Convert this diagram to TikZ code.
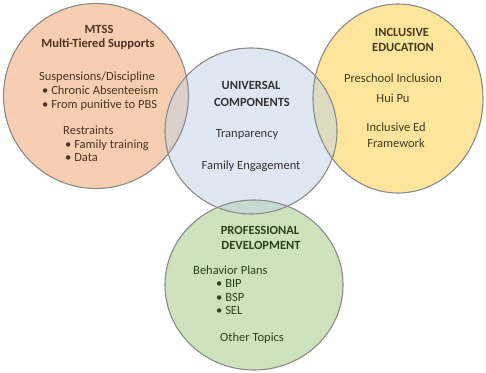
\documentclass[tikz,border=0pt]{standalone}
\usepackage{fontspec}
\setmainfont{Carlito}
\definecolor{orangefill}{HTML}{F19F65}
\definecolor{yellowfill}{HTML}{FDCD39}
\definecolor{bluefill}{HTML}{C1D3E7}
\definecolor{greenfill}{HTML}{9FC77D}
\definecolor{rim}{HTML}{8A8A8A}
\definecolor{orangetext}{HTML}{4E3224}
\definecolor{yellowtext}{HTML}{453A1C}
\definecolor{bluetext}{HTML}{333333}
\definecolor{greentext}{HTML}{2C421F}
\begin{document}
\begin{tikzpicture}[x=1pt,y=-1pt,
  every node/.style={inner sep=0pt, font=\fontsize{12.5}{14}\selectfont},
  lbl/.style={anchor=base},
  lblw/.style={anchor=base west},
  head/.style={anchor=base, font=\fontsize{12.5}{14}\selectfont\bfseries},
  disc/.style={fill opacity=0.5},
  rimline/.style={draw=rim, line width=1.1pt}]
\useasboundingbox[fill=white] (0,0) rectangle (486,372);

% translucent discs
\fill[orangefill, disc] (96,96) ellipse [x radius=92.5pt, y radius=92.5pt];
\fill[yellowfill, disc] (398,98.5) ellipse [x radius=85pt, y radius=94.5pt];
\fill[greenfill, disc] (254,285) ellipse [x radius=89pt, y radius=85pt];
\fill[bluefill, disc] (251,131) ellipse [x radius=86pt, y radius=83pt];
% outlines
\draw[rimline] (96,96) ellipse [x radius=92.5pt, y radius=92.5pt];
\draw[rimline] (398,98.5) ellipse [x radius=85pt, y radius=94.5pt];
\draw[rimline] (254,285) ellipse [x radius=89pt, y radius=85pt];
\draw[rimline] (251,131) ellipse [x radius=86pt, y radius=83pt];

% MTSS
\begin{scope}[text=orangetext]
\node[head] (mtssA) at (99,33) {MTSS};
\node[head] (mtssB) at (98,47) {Multi-Tiered Supports};
\node[lbl]  (susp)  at (97,80) {Suspensions/Discipline};
\node[lblw] (chron) at (42,94) {• Chronic Absenteeism};
\node[lblw] (pun)   at (42,108) {• From punitive to PBS};
\node[lblw] (restr) at (63,134) {Restraints};
\node[lblw] (fam)   at (65,148) {• Family training};
\node[lblw] (data)  at (65,161) {• Data};
\end{scope}

% Universal components
\begin{scope}[text=bluetext]
\node[head] (univA) at (251,89) {UNIVERSAL};
\node[head] (univB) at (252,106) {COMPONENTS};
\node[lbl]  (trans) at (247,137) {Tranparency};
\node[lbl]  (engag) at (251,169) {Family Engagement};
\end{scope}

% Inclusive education
\begin{scope}[text=yellowtext]
\node[head] (inclA) at (402,36) {INCLUSIVE};
\node[head] (inclB) at (403,51) {EDUCATION};
\node[lbl]  (presc) at (393,82) {Preschool Inclusion};
\node[lbl]  (huipu) at (393,102) {Hui Pu};
\node[lbl]  (frmA)  at (396,131) {Inclusive Ed};
\node[lbl]  (frmB)  at (396,147) {Framework};
\end{scope}

% Professional development
\begin{scope}[text=greentext]
\node[head] (profA) at (260,234) {PROFESSIONAL};
\node[head] (profB) at (261,249) {DEVELOPMENT};
\node[lblw] (behav) at (193,274) {Behavior Plans};
\node[lblw] (bip)   at (216,287) {• BIP};
\node[lblw] (bsp)   at (216,301) {• BSP};
\node[lblw] (sel)   at (216,314) {• SEL};
\node[lbl]  (other) at (252,341) {Other Topics};
\end{scope}
\end{tikzpicture}
\end{document}
